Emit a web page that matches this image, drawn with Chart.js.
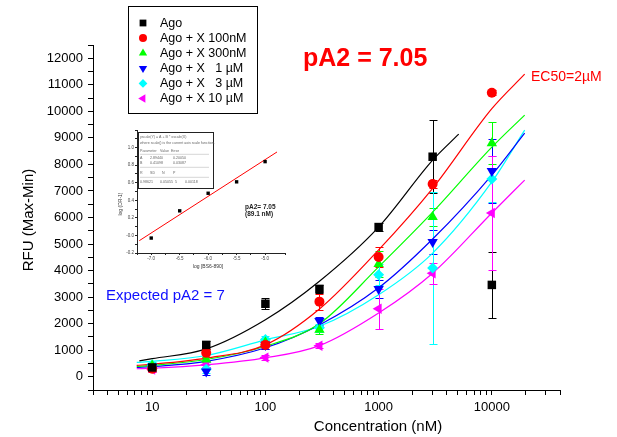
<!DOCTYPE html>
<html>
<head>
<meta charset="utf-8">
<script src="https://cdn.jsdelivr.net/npm/chart.js@4.4.1/dist/chart.umd.min.js"></script>
<style>
  html, body { margin: 0; padding: 0; background: #fff; }
  #wrap { position: relative; width: 617px; height: 437px; }
  #main { position: absolute; left: 0; top: 0; }
  #inset { position: absolute; left: 105px; top: 125px; }
</style>
</head>
<body>
<div id="wrap">
  <canvas id="main" width="617" height="437" style="width:617px;height:437px"></canvas>
  <canvas id="inset" width="185" height="150" style="width:185px;height:150px"></canvas>
</div>
<script>
// ---- data ----
const concentrations = [10, 30, 100, 300, 1000, 3000, 10000];
const seriesNames = ['Ago', 'Ago + X 100nM', 'Ago + X 300nM', 'Ago + X   1 µM', 'Ago + X   3 µM', 'Ago + X 10 µM'];

const agoMean  = [350, 1200, 2750, 3310, 5640, 8290, 3460];
const x100Mean = [300, 900, 1200, 2830, 4510, 7260, 10700];
const x300Mean = [420, 650, 1300, 1770, 4250, 6020, 8800];
const x1Mean   = [380, 200, 1200, 2100, 3310, 5080, 7750];
const x3Mean   = [450, 280, 1400, 1850, 3840, 4100, 7450];
const x10Mean  = [270, 450, 720, 1170, 2560, 3900, 6170];

const agoErr  = [120, 150, 200, 150, 150, 1380, 1240];
const x100Err = [120, 150, 150, 300, 380, 150, 100];
const x300Err = [100, 100, 150, 150, 500, 350, 800];
const x1Err   = [100, 150, 150, 150, 350, 440, 1200];
const x3Err   = [100, 150, 150, 150, 400, 2850, 850];
const x10Err  = [100, 100, 100, 100, 760, 400, 2140];

// fitted curves
const agoFitX = [7.7, 10, 30, 100, 300, 1000, 3000, 5100];
const fitX    = [7.3, 10, 30, 100, 300, 1000, 3000, 10000, 19500];
const agoFit  = [600, 680, 1050, 2150, 3600, 5640, 8160, 9140];
const x100Fit = [430, 470, 700, 1200, 2550, 4780, 7100, 10100, 11400];
const x300Fit = [390, 430, 650, 1150, 2000, 4140, 6200, 8650, 9860];
const x1Fit   = [350, 380, 580, 1090, 1950, 3350, 5190, 7600, 9180];
const x3Fit   = [540, 580, 800, 1390, 1900, 3090, 4660, 7340, 9290];
const x10Fit  = [300, 320, 450, 710, 1170, 2400, 3900, 6170, 7410];

const xLabelTicks = [10, 100, 1000, 10000];
const yMin = -500, yMax = 12500, yStep = 500;

// Schild plot inset
const schildX = [-7.0, -6.5, -6.0, -5.5, -5.0];
const schildY = [-0.03, 0.28, 0.48, 0.61, 0.84];
const schildLineX = [-7.21, -4.79];
const schildLineY = [-0.06, 0.95];
const fitTable = [
  ['yscale(Y) = A + B * xscale(X)'],
  ['where scale() is the current axis scale function.'],
  ['Parameter', 'Value', 'Error'],
  ['A', '2.89440', '0.20050'],
  ['B', '0.41098', '0.03087'],
  ['R', 'SD', 'N', 'P'],
  ['0.98621', '0.05055', '5', '0.00118']
];

const titleText = 'pA2 = 7.05';
const ec50Text = 'EC50=2µM';
const expectedText = 'Expected pA2 = 7';
const xTitle = 'Concentration (nM)';
const yTitle = 'RFU (Max-Min)';

// ---- styles ----
const FONT = '"Liberation Sans", Arial, Helvetica, sans-serif';
Chart.defaults.font.family = FONT;
Chart.defaults.color = '#000';

const colors = ['#000000', '#ff0000', '#00ff00', '#0000ff', '#00ffff', '#ff00ff'];
const markers = [
  { pointStyle: 'rect', radius: 6, rotation: 0 },
  { pointStyle: 'circle', radius: 5, rotation: 0 },
  { pointStyle: 'triangle', radius: 6, rotation: 0 },
  { pointStyle: 'triangle', radius: 6, rotation: 180 },
  { pointStyle: 'rectRot', radius: 5.5, rotation: 0 },
  { pointStyle: 'triangle', radius: 6, rotation: 270 }
];

const means = [agoMean, x100Mean, x300Mean, x1Mean, x3Mean, x10Mean];
const errs = [agoErr, x100Err, x300Err, x1Err, x3Err, x10Err];
const fits = [agoFit, x100Fit, x300Fit, x1Fit, x3Fit, x10Fit];

const datasets = [];
means.forEach((m, i) => {
  datasets.push({
    label: seriesNames[i],
    data: concentrations.map((c, j) => ({ x: c, y: m[j] })),
    errors: errs[i],
    showLine: false,
    backgroundColor: colors[i],
    borderColor: colors[i],
    borderWidth: 0,
    pointStyle: markers[i].pointStyle,
    pointRadius: markers[i].radius,
    pointRotation: markers[i].rotation,
    order: 0
  });
});
fits.forEach((f, i) => {
  const xs = i === 0 ? agoFitX : fitX;
  datasets.push({
    label: seriesNames[i] + ' fit',
    isFit: true,
    data: xs.map((c, j) => ({ x: c, y: f[j] })),
    showLine: true,
    borderColor: colors[i],
    borderWidth: 1.2,
    pointRadius: 0,
    cubicInterpolationMode: 'monotone',
    order: 1
  });
});

// x ticks: every 1..9 x 10^n inside the axis range
const xTickValues = [];
for (let e = 0; e <= 4; e++) {
  for (let k = 1; k <= 9; k++) {
    const v = k * Math.pow(10, e);
    if (v >= 3 && v <= 40000) xTickValues.push(v);
  }
}
const yTickValues = [];
for (let v = yMin; v <= yMax; v += yStep) yTickValues.push(v);

const errorBars = {
  id: 'errorBars',
  beforeDatasetsDraw(chart) {
    const { ctx, scales: { x, y } } = chart;
    ctx.save();
    ctx.lineWidth = 1;
    chart.data.datasets.forEach(ds => {
      if (!ds.errors) return;
      ctx.strokeStyle = ds.borderColor;
      ds.data.forEach((p, j) => {
        const e = ds.errors[j];
        if (!e) return;
        const px = Math.round(x.getPixelForValue(p.x)) + 0.5;
        const top = Math.round(y.getPixelForValue(p.y + e)) + 0.5;
        const bot = Math.round(y.getPixelForValue(p.y - e)) + 0.5;
        ctx.beginPath();
        ctx.moveTo(px, top); ctx.lineTo(px, bot);
        ctx.moveTo(px - 4, top); ctx.lineTo(px + 4, top);
        ctx.moveTo(px - 4, bot); ctx.lineTo(px + 4, bot);
        ctx.stroke();
      });
    });
    ctx.restore();
  }
};

const boxLegend = {
  id: 'boxLegend',
  afterDraw(chart) {
    const ctx = chart.ctx;
    ctx.save();
    ctx.strokeStyle = '#000';
    ctx.lineWidth = 1;
    ctx.strokeRect(128.5, 6.5, 129, 107);
    ctx.font = '12.5px ' + FONT;
    ctx.textBaseline = 'middle';
    ctx.fillStyle = '#000';
    chart.data.datasets.filter(d => !d.isFit).forEach((ds, i) => {
      const yy = 23 + i * 15.1;
      ctx.fillStyle = ds.backgroundColor;
      ctx.strokeStyle = ds.backgroundColor;
      Chart.helpers.drawPoint(ctx, {
        pointStyle: ds.pointStyle,
        radius: ds.pointRadius * 0.8,
        rotation: ds.pointRotation,
        borderWidth: 0
      }, 143, yy);
      ctx.fillStyle = '#000';
      ctx.fillText(ds.label, 160, yy + 0.5);
    });
    ctx.restore();
  }
};

const annotations = {
  id: 'annotations',
  afterDraw(chart) {
    const ctx = chart.ctx;
    ctx.save();
    ctx.fillStyle = '#ff0000';
    ctx.font = 'bold 25px ' + FONT;
    ctx.textBaseline = 'alphabetic';
    ctx.fillText(titleText, 303, 66);
    ctx.font = '14px ' + FONT;
    ctx.fillText(ec50Text, 531, 81);
    ctx.fillStyle = '#1010ff';
    ctx.font = '15px ' + FONT;
    ctx.fillText(expectedText, 106, 300);
    // axis titles
    ctx.fillStyle = '#000';
    ctx.font = '15px ' + FONT;
    ctx.textAlign = 'center';
    ctx.fillText(xTitle, 378, 431);
    ctx.translate(33, 220);
    ctx.rotate(-Math.PI / 2);
    ctx.fillText(yTitle, 0, 0);
    ctx.restore();
  }
};

new Chart(document.getElementById('main'), {
  type: 'scatter',
  data: { datasets: datasets },
  options: {
    responsive: false,
    animation: false,
    layout: { padding: { top: 45, right: 57, left: 0, bottom: 0 } },
    plugins: { legend: { display: false }, tooltip: { enabled: false } },
    scales: {
      x: {
        type: 'logarithmic',
        min: 3,
        max: 40000,
        grid: { drawOnChartArea: false, drawTicks: true, tickLength: 5, color: '#000' },
        border: { color: '#000', width: 1 },
        ticks: {
          autoSkip: false,
          maxRotation: 0,
          padding: 5,
          font: { size: 13 },
          callback: v => xLabelTicks.includes(v) ? String(v) : ''
        },
        afterBuildTicks: s => { s.ticks = xTickValues.map(v => ({ value: v })); },
        afterFit: s => { s.height = 47; }
      },
      y: {
        type: 'linear',
        min: yMin,
        max: yMax,
        grid: { drawOnChartArea: false, drawTicks: true, tickLength: 5, color: '#000' },
        border: { color: '#000', width: 1 },
        ticks: {
          autoSkip: false,
          padding: 5,
          font: { size: 13 },
          callback: v => (v % 1000 === 0) ? String(v) : ''
        },
        afterBuildTicks: s => { s.ticks = yTickValues.map(v => ({ value: v })); },
        afterFit: s => { s.width = 93; }
      }
    }
  },
  plugins: [errorBars, boxLegend, annotations]
});

// ---- inset (Schild plot) ----
const insetDecor = {
  id: 'insetDecor',
  afterDraw(chart) {
    const ctx = chart.ctx;
    ctx.save();
    // fit result table
    ctx.fillStyle = '#fff';
    ctx.fillRect(33, 7, 75, 56);
    ctx.strokeStyle = '#222';
    ctx.lineWidth = 1;
    ctx.strokeRect(33.5, 7.5, 75, 56);
    ctx.fillStyle = '#666';
    ctx.font = '3.6px ' + FONT;
    ctx.textBaseline = 'middle';
    const rowY = [12.3, 17.7, 25.7, 33.3, 37.7, 48.3, 57];
    const colX = [
      [35], [35], [35, 55, 66], [35, 45, 68], [35, 45, 68], [35, 45, 57, 68], [35, 55, 70, 80]
    ];
    fitTable.forEach((row, r) => {
      row.forEach((t, c) => ctx.fillText(t, colX[r][c], rowY[r]));
    });
    ctx.strokeStyle = '#aaa';
    ctx.lineWidth = 0.5;
    [29.3, 42.3, 52.3].forEach(yy => {
      ctx.beginPath(); ctx.moveTo(35, yy); ctx.lineTo(104, yy); ctx.stroke();
    });
    // pA2 result
    ctx.fillStyle = '#222';
    ctx.font = 'bold 6.5px ' + FONT;
    ctx.textBaseline = 'alphabetic';
    ctx.fillText('pA2= 7.05', 140, 84);
    ctx.fillText('(89.1 nM)', 140, 91);
    // axis titles
    ctx.font = '5px ' + FONT;
    ctx.fillStyle = '#333';
    ctx.textAlign = 'center';
    ctx.fillText('log [BS6-890]', 103, 143);
    ctx.translate(17, 79);
    ctx.rotate(-Math.PI / 2);
    ctx.fillText('log (DR-1)', 0, 0);
    ctx.restore();
  }
};

new Chart(document.getElementById('inset'), {
  type: 'scatter',
  data: {
    datasets: [
      {
        data: schildX.map((v, i) => ({ x: v, y: schildY[i] })),
        backgroundColor: '#000',
        pointStyle: 'rect',
        pointRadius: 2.4,
        borderWidth: 0,
        order: 0
      },
      {
        data: schildLineX.map((v, i) => ({ x: v, y: schildLineY[i] })),
        showLine: true,
        borderColor: '#ff0000',
        borderWidth: 1,
        pointRadius: 0,
        order: 1
      }
    ]
  },
  options: {
    responsive: false,
    animation: false,
    layout: { padding: { top: 5, right: 5, left: 0, bottom: 0 } },
    plugins: { legend: { display: false }, tooltip: { enabled: false } },
    scales: {
      x: {
        type: 'linear',
        min: -7.25,
        max: -4.65,
        grid: { drawOnChartArea: false, tickLength: 2, color: '#222' },
        border: { color: '#222', width: 1 },
        ticks: {
          autoSkip: false,
          maxRotation: 0,
          padding: 1,
          color: '#444',
          font: { size: 4.5 },
          stepSize: 0.25,
          callback: v => (Math.round(v * 100) % 50 === 0) ? v.toFixed(1) : ''
        },
        afterFit: s => { s.height = 22; }
      },
      y: {
        type: 'linear',
        min: -0.2,
        max: 1.2,
        grid: { drawOnChartArea: false, tickLength: 2, color: '#222' },
        border: { color: '#222', width: 1 },
        ticks: {
          autoSkip: false,
          padding: 1,
          color: '#444',
          font: { size: 4.5 },
          stepSize: 0.1,
          callback: v => (Math.round(v * 10) % 2 === 0 && v < 1.1) ? v.toFixed(1) : ''
        },
        afterFit: s => { s.width = 32; }
      }
    }
  },
  plugins: [insetDecor]
});
</script>
</body>
</html>
